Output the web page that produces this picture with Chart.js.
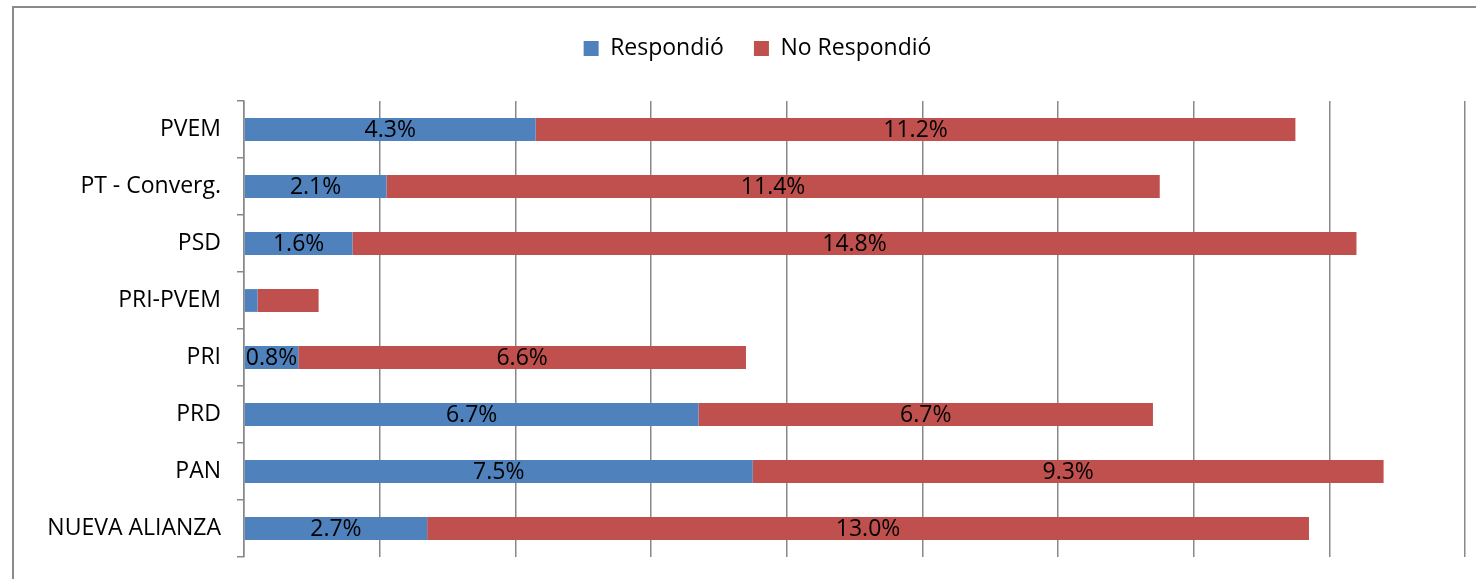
<!DOCTYPE html>
<html>
<head>
<meta charset="utf-8">
<script src="https://cdn.jsdelivr.net/npm/chart.js@4.4.1/dist/chart.umd.min.js"></script>
<style>
    body { margin: 0; background: #fff; }
    .frame { position: absolute; left: 12px; top: 6px; width: 1600px; height: 700px;
             border-left: 2px solid #8a8a8a; border-top: 2px solid #8a8a8a; }
    .wrap { position: absolute; left: 0; top: 0; width: 1476px; height: 579px; }
</style>
</head>
<body>
<div class="frame"></div>
<div class="wrap"><canvas id="chart" width="1476" height="579"></canvas></div>
<script>
        const partidos = ['PVEM', 'PT - Converg.', 'PSD', 'PRI-PVEM', 'PRI', 'PRD', 'PAN', 'NUEVA ALIANZA'];
        const respondio = [4.3, 2.1, 1.6, 0.2, 0.8, 6.7, 7.5, 2.7];
        const noRespondio = [11.2, 11.4, 14.8, 0.9, 6.6, 6.7, 9.3, 13.0];
        // etiquetas ocultas en la barra PRI-PVEM (igual que el original)
        const sinEtiqueta = ['PRI-PVEM'];

        const fuente = '"Open Sans", Lato, sans-serif';
        const gris = '#888888';

        // dibuja el % centrado en cada segmento
        const etiquetas = {
            id: 'etiquetas',
            afterLayout(chart) {
                // la leyenda va centrada sobre el marco, un poco a la derecha
                chart.legend.left += 25;
                chart.legend.right += 25;
            },
            afterDatasetsDraw(chart) {
                const ctx = chart.ctx;
                ctx.save();
                ctx.font = '23px ' + fuente;
                ctx.fillStyle = '#000';
                ctx.textAlign = 'center';
                ctx.textBaseline = 'middle';
                chart.data.datasets.forEach((ds, i) => {
                    chart.getDatasetMeta(i).data.forEach((bar, j) => {
                        if (sinEtiqueta.includes(partidos[j])) return;
                        const x = (bar.x + bar.base) / 2;
                        ctx.fillText(ds.data[j].toFixed(1) + '%', x, bar.y + 1);
                    });
                });
                ctx.restore();
            }
        };

        new Chart(document.getElementById('chart'), {
            type: 'bar',
            data: {
                labels: partidos,
                datasets: [
                    { label: 'Respondió', data: respondio, backgroundColor: '#4F81BD' },
                    { label: 'No Respondió', data: noRespondio, backgroundColor: '#C0504D' }
                ]
            },
            options: {
                indexAxis: 'y',
                responsive: false,
                animation: false,
                layout: { padding: { left: 0, right: 11, top: 7, bottom: 22 } },
                datasets: { bar: { categoryPercentage: 1, barPercentage: 0.4 } },
                plugins: {
                    legend: {
                        position: 'top',
                        labels: {
                            color: '#000',
                            font: { family: fuente, size: 23 },
                            boxWidth: 15,
                            boxHeight: 15,
                            padding: 30
                        }
                    },
                    tooltip: { enabled: false }
                },
                scales: {
                    x: {
                        position: 'top',
                        stacked: true,
                        min: 0,
                        max: 18,
                        ticks: { display: false, stepSize: 2 },
                        grid: { color: gris, lineWidth: 1.5, drawTicks: false },
                        border: { display: false },
                        afterFit: s => { s.height = 31; }
                    },
                    y: {
                        stacked: true,
                        ticks: { color: '#000', font: { family: fuente, size: 23 }, padding: 16 },
                        grid: { offset: true, drawOnChartArea: false, tickLength: 7, color: gris, lineWidth: 1.5 },
                        border: { color: gris, width: 1.5 },
                        afterFit: s => { s.width = 244; s.paddingTop = 0; s.paddingBottom = 0; }
                    }
                }
            },
            plugins: [etiquetas]
        });
</script>
</body>
</html>
